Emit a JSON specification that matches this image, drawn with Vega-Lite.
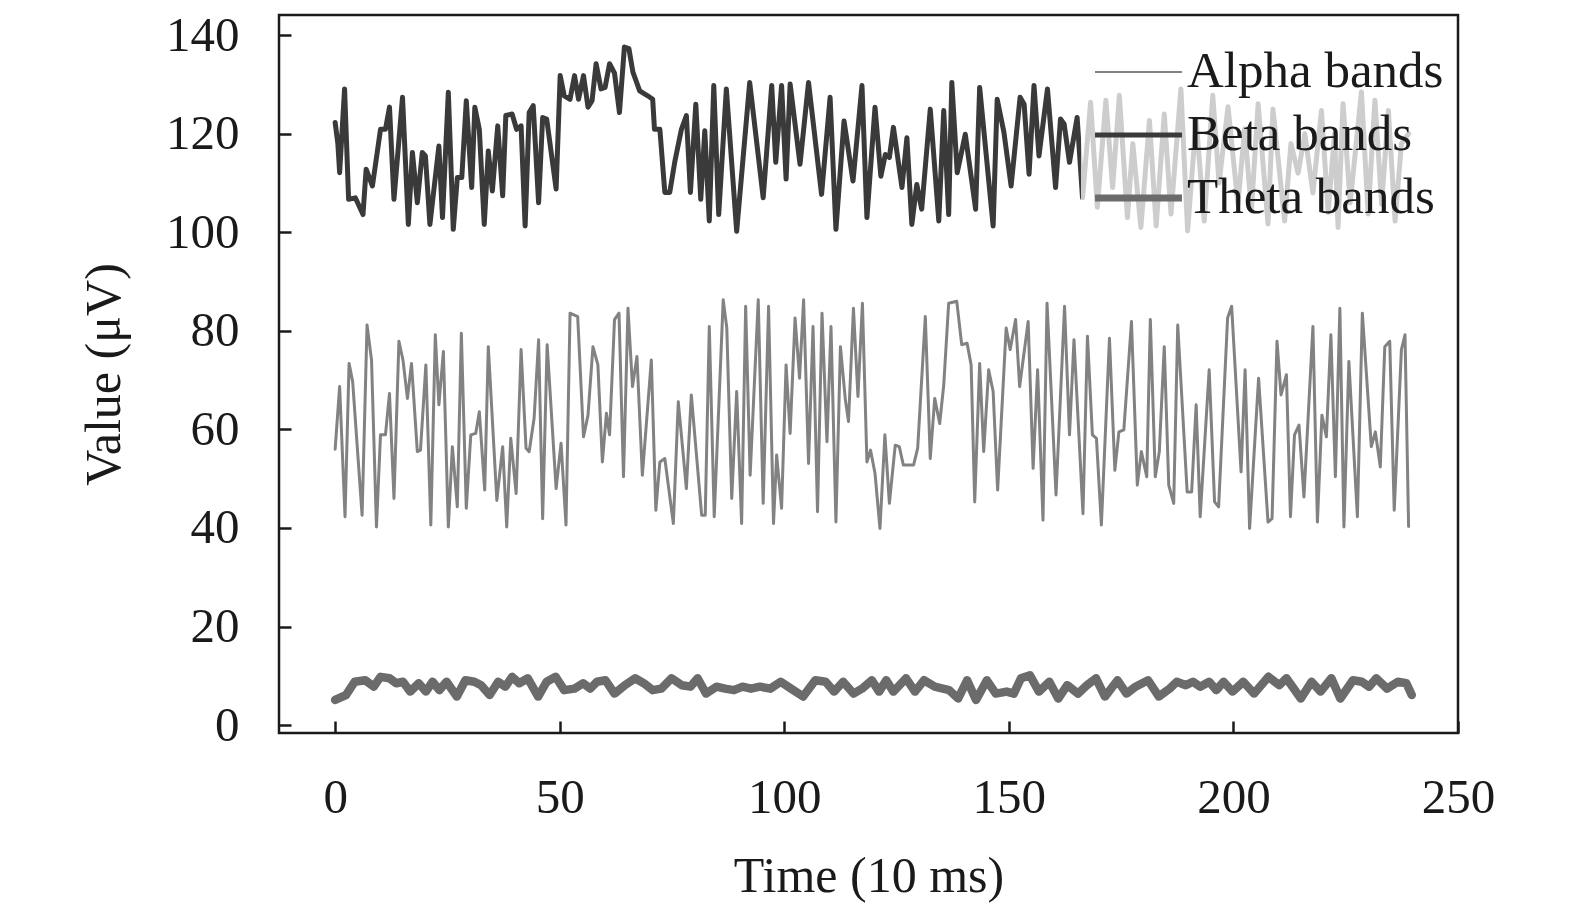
{
  "$schema": "https://vega.github.io/schema/vega-lite/v6.json",
  "autosize": "none",
  "width": 1179,
  "height": 718,
  "padding": {"left": 279, "top": 15, "right": 117, "bottom": 180},
  "background": "white",
  "config": {
    "view": {"stroke": "#1a1a1a", "strokeWidth": 2.5},
    "font": "Liberation Serif",
    "axis": {
      "labelFont": "Liberation Serif", "titleFont": "Liberation Serif",
      "labelFontSize": 49, "titleFontSize": 50,
      "labelColor": "#1a1a1a", "titleColor": "#1a1a1a",
      "titleFontWeight": "normal",
      "grid": false, "domain": false, "labelFlush": false,
      "tickSize": -12, "tickWidth": 2.5, "tickColor": "#1a1a1a",
      "labelPadding": 52
    }
  },
  "data": {
    "values": [
      {"band": "Beta bands", "t": 0, "v": 122.3}, {"band": "Beta bands", "t": 0.6, "v": 118}, {"band": "Beta bands", "t": 1.0, "v": 112.1},
      {"band": "Beta bands", "t": 2.1, "v": 129.1}, {"band": "Beta bands", "t": 3.0, "v": 106.7}, {"band": "Beta bands", "t": 4.5, "v": 107.0},
      {"band": "Beta bands", "t": 6.2, "v": 103.6}, {"band": "Beta bands", "t": 6.9, "v": 112.8}, {"band": "Beta bands", "t": 8.3, "v": 109.4},
      {"band": "Beta bands", "t": 10.1, "v": 120.9}, {"band": "Beta bands", "t": 11.2, "v": 120.9}, {"band": "Beta bands", "t": 12.1, "v": 125.4},
      {"band": "Beta bands", "t": 13.1, "v": 106.7}, {"band": "Beta bands", "t": 15.0, "v": 127.4}, {"band": "Beta bands", "t": 16.3, "v": 101.6},
      {"band": "Beta bands", "t": 17.2, "v": 116.2}, {"band": "Beta bands", "t": 18.3, "v": 106.0}, {"band": "Beta bands", "t": 19.4, "v": 116.2},
      {"band": "Beta bands", "t": 20.1, "v": 115.5}, {"band": "Beta bands", "t": 21.1, "v": 101.6}, {"band": "Beta bands", "t": 23.1, "v": 117.5},
      {"band": "Beta bands", "t": 23.9, "v": 103.0}, {"band": "Beta bands", "t": 25.2, "v": 128.4}, {"band": "Beta bands", "t": 26.3, "v": 100.6},
      {"band": "Beta bands", "t": 27.2, "v": 111.1}, {"band": "Beta bands", "t": 28.2, "v": 111.1}, {"band": "Beta bands", "t": 29.2, "v": 126.7},
      {"band": "Beta bands", "t": 30.4, "v": 109.1}, {"band": "Beta bands", "t": 31.1, "v": 125.4}, {"band": "Beta bands", "t": 32.1, "v": 120.9},
      {"band": "Beta bands", "t": 33.2, "v": 101.6}, {"band": "Beta bands", "t": 34.1, "v": 116.5}, {"band": "Beta bands", "t": 35.0, "v": 108.4},
      {"band": "Beta bands", "t": 36.2, "v": 121.6}, {"band": "Beta bands", "t": 37.3, "v": 107.4}, {"band": "Beta bands", "t": 38.0, "v": 123.7},
      {"band": "Beta bands", "t": 39.4, "v": 124.0}, {"band": "Beta bands", "t": 40.4, "v": 120.9}, {"band": "Beta bands", "t": 41.4, "v": 121.6},
      {"band": "Beta bands", "t": 42.3, "v": 101.3}, {"band": "Beta bands", "t": 43.2, "v": 124.3}, {"band": "Beta bands", "t": 44.1, "v": 125.7},
      {"band": "Beta bands", "t": 45.3, "v": 106.0}, {"band": "Beta bands", "t": 46.2, "v": 123.3}, {"band": "Beta bands", "t": 47.1, "v": 123.0},
      {"band": "Beta bands", "t": 49.2, "v": 108.8}, {"band": "Beta bands", "t": 50.1, "v": 131.8}, {"band": "Beta bands", "t": 51.0, "v": 127.7},
      {"band": "Beta bands", "t": 52.3, "v": 127.0}, {"band": "Beta bands", "t": 53.3, "v": 131.8}, {"band": "Beta bands", "t": 54.2, "v": 127.0},
      {"band": "Beta bands", "t": 55.3, "v": 131.8}, {"band": "Beta bands", "t": 56.3, "v": 125.4}, {"band": "Beta bands", "t": 57.2, "v": 126.7},
      {"band": "Beta bands", "t": 58.1, "v": 134.2}, {"band": "Beta bands", "t": 59.2, "v": 129.1}, {"band": "Beta bands", "t": 60.1, "v": 129.4},
      {"band": "Beta bands", "t": 61.1, "v": 134.2}, {"band": "Beta bands", "t": 62.2, "v": 132.3}, {"band": "Beta bands", "t": 63.3, "v": 124.3},
      {"band": "Beta bands", "t": 64.4, "v": 137.6}, {"band": "Beta bands", "t": 65.4, "v": 137.3}, {"band": "Beta bands", "t": 66.3, "v": 132.5},
      {"band": "Beta bands", "t": 67.8, "v": 128.7}, {"band": "Beta bands", "t": 69.6, "v": 127.7}, {"band": "Beta bands", "t": 70.7, "v": 127.0},
      {"band": "Beta bands", "t": 71.1, "v": 120.9}, {"band": "Beta bands", "t": 72.3, "v": 120.9}, {"band": "Beta bands", "t": 73.4, "v": 108.1},
      {"band": "Beta bands", "t": 74.5, "v": 108.1}, {"band": "Beta bands", "t": 75.6, "v": 114.2}, {"band": "Beta bands", "t": 77.1, "v": 120.9},
      {"band": "Beta bands", "t": 78.2, "v": 123.7}, {"band": "Beta bands", "t": 79.1, "v": 108.1}, {"band": "Beta bands", "t": 80.3, "v": 126.0},
      {"band": "Beta bands", "t": 81.4, "v": 106.7}, {"band": "Beta bands", "t": 82.3, "v": 120.6}, {"band": "Beta bands", "t": 83.3, "v": 102.3},
      {"band": "Beta bands", "t": 84.3, "v": 129.8}, {"band": "Beta bands", "t": 85.4, "v": 103.6}, {"band": "Beta bands", "t": 87.1, "v": 129.1},
      {"band": "Beta bands", "t": 89.4, "v": 100.2}, {"band": "Beta bands", "t": 92.3, "v": 130.4}, {"band": "Beta bands", "t": 95.3, "v": 107.0},
      {"band": "Beta bands", "t": 97.2, "v": 129.8}, {"band": "Beta bands", "t": 98.1, "v": 114.2}, {"band": "Beta bands", "t": 99.4, "v": 129.8},
      {"band": "Beta bands", "t": 100.4, "v": 110.8}, {"band": "Beta bands", "t": 101.3, "v": 130.1}, {"band": "Beta bands", "t": 103.5, "v": 113.8},
      {"band": "Beta bands", "t": 105.4, "v": 130.4}, {"band": "Beta bands", "t": 108.3, "v": 107.7}, {"band": "Beta bands", "t": 110.2, "v": 127.4},
      {"band": "Beta bands", "t": 111.5, "v": 100.6}, {"band": "Beta bands", "t": 113.3, "v": 122.6}, {"band": "Beta bands", "t": 115.3, "v": 110.4},
      {"band": "Beta bands", "t": 117.3, "v": 129.8}, {"band": "Beta bands", "t": 118.4, "v": 103.0}, {"band": "Beta bands", "t": 120.2, "v": 125.4},
      {"band": "Beta bands", "t": 121.5, "v": 111.4}, {"band": "Beta bands", "t": 122.5, "v": 115.8}, {"band": "Beta bands", "t": 123.4, "v": 115.2},
      {"band": "Beta bands", "t": 124.3, "v": 121.3}, {"band": "Beta bands", "t": 126.2, "v": 109.1}, {"band": "Beta bands", "t": 127.3, "v": 119.2},
      {"band": "Beta bands", "t": 128.4, "v": 101.6}, {"band": "Beta bands", "t": 129.5, "v": 109.7}, {"band": "Beta bands", "t": 130.6, "v": 104.7},
      {"band": "Beta bands", "t": 132.5, "v": 125.0}, {"band": "Beta bands", "t": 134.4, "v": 102.3}, {"band": "Beta bands", "t": 135.5, "v": 124.7},
      {"band": "Beta bands", "t": 136.6, "v": 103.6}, {"band": "Beta bands", "t": 137.3, "v": 130.4}, {"band": "Beta bands", "t": 138.5, "v": 112.1},
      {"band": "Beta bands", "t": 140.3, "v": 119.9}, {"band": "Beta bands", "t": 142.6, "v": 104.7}, {"band": "Beta bands", "t": 143.5, "v": 129.4},
      {"band": "Beta bands", "t": 146.5, "v": 101.3}, {"band": "Beta bands", "t": 147.4, "v": 127.0}, {"band": "Beta bands", "t": 148.9, "v": 120.3},
      {"band": "Beta bands", "t": 150.5, "v": 109.4}, {"band": "Beta bands", "t": 152.5, "v": 127.4}, {"band": "Beta bands", "t": 153.4, "v": 126.0},
      {"band": "Beta bands", "t": 154.5, "v": 111.8}, {"band": "Beta bands", "t": 155.6, "v": 129.8}, {"band": "Beta bands", "t": 156.7, "v": 115.5},
      {"band": "Beta bands", "t": 158.6, "v": 129.1}, {"band": "Beta bands", "t": 160.4, "v": 109.1}, {"band": "Beta bands", "t": 161.5, "v": 123.0},
      {"band": "Beta bands", "t": 162.3, "v": 122.0}, {"band": "Beta bands", "t": 163.5, "v": 114.2}, {"band": "Beta bands", "t": 165.2, "v": 123.3},
      {"band": "Beta bands", "t": 166.4, "v": 107.0}, {"band": "Beta bands", "t": 168.2, "v": 126.4}, {"band": "Beta bands", "t": 169.7, "v": 105.1},
      {"band": "Beta bands", "t": 171.6, "v": 126.8}, {"band": "Beta bands", "t": 173.1, "v": 109.1}, {"band": "Beta bands", "t": 174.6, "v": 127.8},
      {"band": "Beta bands", "t": 176.4, "v": 103.0}, {"band": "Beta bands", "t": 177.6, "v": 118.0}, {"band": "Beta bands", "t": 179.4, "v": 101.0},
      {"band": "Beta bands", "t": 181.3, "v": 122.7}, {"band": "Beta bands", "t": 182.8, "v": 101.3}, {"band": "Beta bands", "t": 184.6, "v": 124.0},
      {"band": "Beta bands", "t": 186.1, "v": 103.7}, {"band": "Beta bands", "t": 188.3, "v": 129.1}, {"band": "Beta bands", "t": 189.8, "v": 100.3},
      {"band": "Beta bands", "t": 191.7, "v": 122.7}, {"band": "Beta bands", "t": 193.5, "v": 102.3}, {"band": "Beta bands", "t": 195.4, "v": 127.8},
      {"band": "Beta bands", "t": 196.8, "v": 110.0}, {"band": "Beta bands", "t": 198.8, "v": 125.5}, {"band": "Beta bands", "t": 201.0, "v": 105.7},
      {"band": "Beta bands", "t": 202.5, "v": 121.0}, {"band": "Beta bands", "t": 204.0, "v": 104.4}, {"band": "Beta bands", "t": 205.5, "v": 126.1},
      {"band": "Beta bands", "t": 207.7, "v": 101.7}, {"band": "Beta bands", "t": 208.8, "v": 125.0}, {"band": "Beta bands", "t": 211.4, "v": 102.3},
      {"band": "Beta bands", "t": 212.8, "v": 118.0}, {"band": "Beta bands", "t": 214.4, "v": 112.0}, {"band": "Beta bands", "t": 215.9, "v": 120.0},
      {"band": "Beta bands", "t": 217.7, "v": 108.0}, {"band": "Beta bands", "t": 219.6, "v": 124.7}, {"band": "Beta bands", "t": 221.1, "v": 104.0},
      {"band": "Beta bands", "t": 222.5, "v": 120.0}, {"band": "Beta bands", "t": 223.3, "v": 101.0}, {"band": "Beta bands", "t": 224.4, "v": 126.1},
      {"band": "Beta bands", "t": 226.0, "v": 106.0}, {"band": "Beta bands", "t": 228.5, "v": 128.5}, {"band": "Beta bands", "t": 230.0, "v": 103.7},
      {"band": "Beta bands", "t": 231.5, "v": 126.8}, {"band": "Beta bands", "t": 233.0, "v": 105.7}, {"band": "Beta bands", "t": 234.5, "v": 124.7},
      {"band": "Beta bands", "t": 236.0, "v": 102.3}, {"band": "Beta bands", "t": 237.4, "v": 118.0}, {"band": "Beta bands", "t": 239.0, "v": 120.0},

      {"band": "Alpha bands", "t": 0, "v": 56}, {"band": "Alpha bands", "t": 1.0, "v": 68.7}, {"band": "Alpha bands", "t": 2.2, "v": 42.3},
      {"band": "Alpha bands", "t": 3.1, "v": 73.4}, {"band": "Alpha bands", "t": 3.9, "v": 69.7}, {"band": "Alpha bands", "t": 6.0, "v": 42.6},
      {"band": "Alpha bands", "t": 7.1, "v": 81.2}, {"band": "Alpha bands", "t": 8.1, "v": 74.1}, {"band": "Alpha bands", "t": 9.2, "v": 40.2},
      {"band": "Alpha bands", "t": 10.1, "v": 58.9}, {"band": "Alpha bands", "t": 11.2, "v": 58.9}, {"band": "Alpha bands", "t": 12.1, "v": 67.3},
      {"band": "Alpha bands", "t": 13.1, "v": 46.0}, {"band": "Alpha bands", "t": 14.2, "v": 77.9}, {"band": "Alpha bands", "t": 15.1, "v": 74.1},
      {"band": "Alpha bands", "t": 16.1, "v": 66.3}, {"band": "Alpha bands", "t": 17.0, "v": 73.4}, {"band": "Alpha bands", "t": 18.3, "v": 55.5},
      {"band": "Alpha bands", "t": 19.0, "v": 55.8}, {"band": "Alpha bands", "t": 20.2, "v": 73.1}, {"band": "Alpha bands", "t": 21.3, "v": 40.6},
      {"band": "Alpha bands", "t": 22.3, "v": 79.2}, {"band": "Alpha bands", "t": 23.1, "v": 65.0}, {"band": "Alpha bands", "t": 24.1, "v": 75.8},
      {"band": "Alpha bands", "t": 25.2, "v": 40.2}, {"band": "Alpha bands", "t": 26.1, "v": 56.5}, {"band": "Alpha bands", "t": 27.2, "v": 44.3},
      {"band": "Alpha bands", "t": 28.1, "v": 79.5}, {"band": "Alpha bands", "t": 29.2, "v": 44.0}, {"band": "Alpha bands", "t": 30.2, "v": 58.9},
      {"band": "Alpha bands", "t": 31.3, "v": 59.2}, {"band": "Alpha bands", "t": 32.1, "v": 63.6}, {"band": "Alpha bands", "t": 33.3, "v": 47.7},
      {"band": "Alpha bands", "t": 34.1, "v": 76.8}, {"band": "Alpha bands", "t": 36.0, "v": 45.6}, {"band": "Alpha bands", "t": 37.3, "v": 56.5},
      {"band": "Alpha bands", "t": 38.2, "v": 40.2}, {"band": "Alpha bands", "t": 39.1, "v": 58.2}, {"band": "Alpha bands", "t": 40.3, "v": 47.0},
      {"band": "Alpha bands", "t": 41.4, "v": 76.2}, {"band": "Alpha bands", "t": 42.5, "v": 56.2}, {"band": "Alpha bands", "t": 43.2, "v": 55.5},
      {"band": "Alpha bands", "t": 44.3, "v": 62.3}, {"band": "Alpha bands", "t": 45.3, "v": 78.2}, {"band": "Alpha bands", "t": 46.2, "v": 41.9},
      {"band": "Alpha bands", "t": 47.2, "v": 77.2}, {"band": "Alpha bands", "t": 49.2, "v": 48.0}, {"band": "Alpha bands", "t": 50.3, "v": 57.2},
      {"band": "Alpha bands", "t": 51.4, "v": 40.6}, {"band": "Alpha bands", "t": 52.3, "v": 83.6}, {"band": "Alpha bands", "t": 54.0, "v": 82.9},
      {"band": "Alpha bands", "t": 55.3, "v": 58.5}, {"band": "Alpha bands", "t": 56.3, "v": 62.9}, {"band": "Alpha bands", "t": 57.4, "v": 76.8},
      {"band": "Alpha bands", "t": 58.5, "v": 73.1}, {"band": "Alpha bands", "t": 59.5, "v": 53.4}, {"band": "Alpha bands", "t": 60.4, "v": 63.3},
      {"band": "Alpha bands", "t": 61.1, "v": 58.9}, {"band": "Alpha bands", "t": 62.2, "v": 82.3}, {"band": "Alpha bands", "t": 63.2, "v": 83.6},
      {"band": "Alpha bands", "t": 64.2, "v": 50.4}, {"band": "Alpha bands", "t": 65.2, "v": 84.6}, {"band": "Alpha bands", "t": 66.2, "v": 68.7},
      {"band": "Alpha bands", "t": 67.2, "v": 74.8}, {"band": "Alpha bands", "t": 68.4, "v": 50.7}, {"band": "Alpha bands", "t": 70.4, "v": 74.1},
      {"band": "Alpha bands", "t": 71.4, "v": 43.6}, {"band": "Alpha bands", "t": 72.3, "v": 53.4}, {"band": "Alpha bands", "t": 73.4, "v": 54.1},
      {"band": "Alpha bands", "t": 75.3, "v": 40.9}, {"band": "Alpha bands", "t": 76.4, "v": 65.6}, {"band": "Alpha bands", "t": 78.2, "v": 48.0},
      {"band": "Alpha bands", "t": 79.3, "v": 67.0}, {"band": "Alpha bands", "t": 81.6, "v": 42.6}, {"band": "Alpha bands", "t": 82.4, "v": 42.6},
      {"band": "Alpha bands", "t": 83.3, "v": 80.9}, {"band": "Alpha bands", "t": 84.4, "v": 42.3}, {"band": "Alpha bands", "t": 86.4, "v": 86.3},
      {"band": "Alpha bands", "t": 87.2, "v": 80.6}, {"band": "Alpha bands", "t": 88.3, "v": 46.0}, {"band": "Alpha bands", "t": 89.4, "v": 67.7},
      {"band": "Alpha bands", "t": 90.5, "v": 40.9}, {"band": "Alpha bands", "t": 91.4, "v": 85.0}, {"band": "Alpha bands", "t": 92.4, "v": 50.7},
      {"band": "Alpha bands", "t": 94.2, "v": 86.3}, {"band": "Alpha bands", "t": 95.3, "v": 45.0}, {"band": "Alpha bands", "t": 96.5, "v": 85.0},
      {"band": "Alpha bands", "t": 97.6, "v": 40.9}, {"band": "Alpha bands", "t": 98.3, "v": 54.8}, {"band": "Alpha bands", "t": 99.4, "v": 44.0},
      {"band": "Alpha bands", "t": 100.4, "v": 73.1}, {"band": "Alpha bands", "t": 101.3, "v": 59.2}, {"band": "Alpha bands", "t": 102.4, "v": 82.6},
      {"band": "Alpha bands", "t": 103.4, "v": 70.4}, {"band": "Alpha bands", "t": 104.3, "v": 86.3}, {"band": "Alpha bands", "t": 105.4, "v": 53.1},
      {"band": "Alpha bands", "t": 106.4, "v": 80.9}, {"band": "Alpha bands", "t": 107.4, "v": 43.3}, {"band": "Alpha bands", "t": 108.4, "v": 83.6},
      {"band": "Alpha bands", "t": 109.5, "v": 57.5}, {"band": "Alpha bands", "t": 110.4, "v": 80.9}, {"band": "Alpha bands", "t": 111.5, "v": 41.2},
      {"band": "Alpha bands", "t": 112.5, "v": 76.8}, {"band": "Alpha bands", "t": 113.6, "v": 66.0}, {"band": "Alpha bands", "t": 114.3, "v": 61.6},
      {"band": "Alpha bands", "t": 115.4, "v": 84.6}, {"band": "Alpha bands", "t": 116.4, "v": 66.7}, {"band": "Alpha bands", "t": 117.4, "v": 85.6},
      {"band": "Alpha bands", "t": 118.4, "v": 53.4}, {"band": "Alpha bands", "t": 119.2, "v": 55.8}, {"band": "Alpha bands", "t": 120.2, "v": 51.1},
      {"band": "Alpha bands", "t": 121.3, "v": 39.9}, {"band": "Alpha bands", "t": 122.4, "v": 58.9}, {"band": "Alpha bands", "t": 123.4, "v": 45.0},
      {"band": "Alpha bands", "t": 124.7, "v": 56.8}, {"band": "Alpha bands", "t": 125.6, "v": 56.5}, {"band": "Alpha bands", "t": 126.5, "v": 52.8},
      {"band": "Alpha bands", "t": 128.8, "v": 52.8}, {"band": "Alpha bands", "t": 129.7, "v": 56.2}, {"band": "Alpha bands", "t": 131.4, "v": 82.9},
      {"band": "Alpha bands", "t": 132.5, "v": 54.1}, {"band": "Alpha bands", "t": 133.5, "v": 66.3}, {"band": "Alpha bands", "t": 134.6, "v": 61.2},
      {"band": "Alpha bands", "t": 135.5, "v": 69.0}, {"band": "Alpha bands", "t": 136.6, "v": 85.6}, {"band": "Alpha bands", "t": 138.4, "v": 86.0},
      {"band": "Alpha bands", "t": 139.5, "v": 77.2}, {"band": "Alpha bands", "t": 140.7, "v": 77.5}, {"band": "Alpha bands", "t": 141.6, "v": 73.1},
      {"band": "Alpha bands", "t": 142.4, "v": 45.3}, {"band": "Alpha bands", "t": 143.5, "v": 73.4}, {"band": "Alpha bands", "t": 144.4, "v": 55.5},
      {"band": "Alpha bands", "t": 145.5, "v": 72.1}, {"band": "Alpha bands", "t": 146.5, "v": 67.7}, {"band": "Alpha bands", "t": 147.5, "v": 47.7},
      {"band": "Alpha bands", "t": 149.4, "v": 80.6}, {"band": "Alpha bands", "t": 150.3, "v": 76.2}, {"band": "Alpha bands", "t": 151.5, "v": 82.3},
      {"band": "Alpha bands", "t": 152.4, "v": 68.7}, {"band": "Alpha bands", "t": 154.3, "v": 81.9}, {"band": "Alpha bands", "t": 155.4, "v": 52.1},
      {"band": "Alpha bands", "t": 156.4, "v": 72.1}, {"band": "Alpha bands", "t": 157.6, "v": 41.6}, {"band": "Alpha bands", "t": 158.5, "v": 85.6},
      {"band": "Alpha bands", "t": 159.5, "v": 66.3}, {"band": "Alpha bands", "t": 160.5, "v": 46.7}, {"band": "Alpha bands", "t": 162.4, "v": 85.0},
      {"band": "Alpha bands", "t": 163.5, "v": 58.9}, {"band": "Alpha bands", "t": 164.5, "v": 78.2}, {"band": "Alpha bands", "t": 166.5, "v": 42.9},
      {"band": "Alpha bands", "t": 167.5, "v": 78.9}, {"band": "Alpha bands", "t": 168.6, "v": 58.9}, {"band": "Alpha bands", "t": 169.5, "v": 58.2},
      {"band": "Alpha bands", "t": 170.6, "v": 40.6}, {"band": "Alpha bands", "t": 172.4, "v": 78.5}, {"band": "Alpha bands", "t": 173.6, "v": 51.7},
      {"band": "Alpha bands", "t": 174.5, "v": 59.5}, {"band": "Alpha bands", "t": 175.6, "v": 59.9}, {"band": "Alpha bands", "t": 177.3, "v": 81.9},
      {"band": "Alpha bands", "t": 178.6, "v": 48.7}, {"band": "Alpha bands", "t": 179.5, "v": 55.5}, {"band": "Alpha bands", "t": 180.7, "v": 50.4},
      {"band": "Alpha bands", "t": 181.5, "v": 82.3}, {"band": "Alpha bands", "t": 182.6, "v": 50.4}, {"band": "Alpha bands", "t": 183.5, "v": 55.5},
      {"band": "Alpha bands", "t": 184.6, "v": 76.8}, {"band": "Alpha bands", "t": 185.6, "v": 48.7}, {"band": "Alpha bands", "t": 186.7, "v": 45.0},
      {"band": "Alpha bands", "t": 187.6, "v": 81.2}, {"band": "Alpha bands", "t": 189.7, "v": 47.3}, {"band": "Alpha bands", "t": 190.7, "v": 47.3},
      {"band": "Alpha bands", "t": 191.7, "v": 65.0}, {"band": "Alpha bands", "t": 192.6, "v": 42.3}, {"band": "Alpha bands", "t": 194.6, "v": 72.1},
      {"band": "Alpha bands", "t": 195.8, "v": 45.3}, {"band": "Alpha bands", "t": 196.7, "v": 44.3}, {"band": "Alpha bands", "t": 198.7, "v": 82.6},
      {"band": "Alpha bands", "t": 199.6, "v": 85.0}, {"band": "Alpha bands", "t": 201.7, "v": 51.4}, {"band": "Alpha bands", "t": 202.6, "v": 72.1},
      {"band": "Alpha bands", "t": 203.6, "v": 39.9}, {"band": "Alpha bands", "t": 205.6, "v": 70.4}, {"band": "Alpha bands", "t": 207.7, "v": 41.2},
      {"band": "Alpha bands", "t": 208.6, "v": 41.9}, {"band": "Alpha bands", "t": 209.7, "v": 77.9}, {"band": "Alpha bands", "t": 210.6, "v": 67.0},
      {"band": "Alpha bands", "t": 211.8, "v": 71.1}, {"band": "Alpha bands", "t": 212.7, "v": 42.3}, {"band": "Alpha bands", "t": 213.6, "v": 58.9},
      {"band": "Alpha bands", "t": 214.6, "v": 60.9}, {"band": "Alpha bands", "t": 215.7, "v": 46.3}, {"band": "Alpha bands", "t": 217.7, "v": 80.9},
      {"band": "Alpha bands", "t": 218.7, "v": 41.2}, {"band": "Alpha bands", "t": 219.7, "v": 62.9}, {"band": "Alpha bands", "t": 220.7, "v": 58.5},
      {"band": "Alpha bands", "t": 221.7, "v": 79.2}, {"band": "Alpha bands", "t": 222.7, "v": 50.4}, {"band": "Alpha bands", "t": 223.7, "v": 84.6},
      {"band": "Alpha bands", "t": 224.6, "v": 40.2}, {"band": "Alpha bands", "t": 225.7, "v": 73.8}, {"band": "Alpha bands", "t": 227.6, "v": 42.3},
      {"band": "Alpha bands", "t": 228.7, "v": 83.6}, {"band": "Alpha bands", "t": 230.7, "v": 56.5}, {"band": "Alpha bands", "t": 231.6, "v": 59.5},
      {"band": "Alpha bands", "t": 232.7, "v": 52.4}, {"band": "Alpha bands", "t": 233.7, "v": 76.8}, {"band": "Alpha bands", "t": 234.8, "v": 77.9},
      {"band": "Alpha bands", "t": 235.8, "v": 43.6}, {"band": "Alpha bands", "t": 237.4, "v": 76.2}, {"band": "Alpha bands", "t": 238.2, "v": 79.2},
      {"band": "Alpha bands", "t": 239.0, "v": 40.3},

      {"band": "Theta bands", "t": 0, "v": 5.1}, {"band": "Theta bands", "t": 2.4, "v": 6.1}, {"band": "Theta bands", "t": 4.35, "v": 8.8},
      {"band": "Theta bands", "t": 6.7, "v": 9.1}, {"band": "Theta bands", "t": 8.6, "v": 7.8}, {"band": "Theta bands", "t": 10.1, "v": 9.8},
      {"band": "Theta bands", "t": 12.1, "v": 9.5}, {"band": "Theta bands", "t": 13.6, "v": 8.5}, {"band": "Theta bands", "t": 15.1, "v": 8.8},
      {"band": "Theta bands", "t": 16.7, "v": 6.8}, {"band": "Theta bands", "t": 18.6, "v": 8.5}, {"band": "Theta bands", "t": 20.2, "v": 6.8},
      {"band": "Theta bands", "t": 21.7, "v": 8.8}, {"band": "Theta bands", "t": 23.2, "v": 7.1}, {"band": "Theta bands", "t": 24.8, "v": 8.8},
      {"band": "Theta bands", "t": 27.1, "v": 5.8}, {"band": "Theta bands", "t": 29.0, "v": 9.1}, {"band": "Theta bands", "t": 31.0, "v": 8.8},
      {"band": "Theta bands", "t": 32.5, "v": 8.1}, {"band": "Theta bands", "t": 34.4, "v": 6.1}, {"band": "Theta bands", "t": 36.3, "v": 8.8},
      {"band": "Theta bands", "t": 37.9, "v": 7.8}, {"band": "Theta bands", "t": 39.4, "v": 9.8}, {"band": "Theta bands", "t": 41.0, "v": 8.5},
      {"band": "Theta bands", "t": 42.9, "v": 9.5}, {"band": "Theta bands", "t": 45.2, "v": 5.8}, {"band": "Theta bands", "t": 47.1, "v": 8.8},
      {"band": "Theta bands", "t": 49.1, "v": 9.8}, {"band": "Theta bands", "t": 51.0, "v": 7.1}, {"band": "Theta bands", "t": 53.3, "v": 7.4},
      {"band": "Theta bands", "t": 55.2, "v": 8.5}, {"band": "Theta bands", "t": 56.8, "v": 7.4}, {"band": "Theta bands", "t": 58.3, "v": 8.8},
      {"band": "Theta bands", "t": 60.2, "v": 9.1}, {"band": "Theta bands", "t": 62.2, "v": 6.4}, {"band": "Theta bands", "t": 64.5, "v": 8.1},
      {"band": "Theta bands", "t": 66.8, "v": 9.5}, {"band": "Theta bands", "t": 68.7, "v": 8.5}, {"band": "Theta bands", "t": 70.7, "v": 7.1},
      {"band": "Theta bands", "t": 72.6, "v": 7.4}, {"band": "Theta bands", "t": 74.9, "v": 9.5}, {"band": "Theta bands", "t": 77.2, "v": 8.1},
      {"band": "Theta bands", "t": 79.1, "v": 7.8}, {"band": "Theta bands", "t": 80.7, "v": 9.5}, {"band": "Theta bands", "t": 82.6, "v": 6.4},
      {"band": "Theta bands", "t": 84.9, "v": 7.8}, {"band": "Theta bands", "t": 86.8, "v": 7.4}, {"band": "Theta bands", "t": 88.8, "v": 7.1},
      {"band": "Theta bands", "t": 90.7, "v": 7.8}, {"band": "Theta bands", "t": 92.6, "v": 7.4}, {"band": "Theta bands", "t": 94.6, "v": 7.8},
      {"band": "Theta bands", "t": 96.9, "v": 7.4}, {"band": "Theta bands", "t": 99.2, "v": 8.8}, {"band": "Theta bands", "t": 101.5, "v": 7.4},
      {"band": "Theta bands", "t": 104.2, "v": 5.8}, {"band": "Theta bands", "t": 106.9, "v": 9.1}, {"band": "Theta bands", "t": 109.2, "v": 8.8},
      {"band": "Theta bands", "t": 111.1, "v": 6.8}, {"band": "Theta bands", "t": 113.1, "v": 8.8}, {"band": "Theta bands", "t": 115.4, "v": 6.4},
      {"band": "Theta bands", "t": 117.3, "v": 7.4}, {"band": "Theta bands", "t": 119.5, "v": 9.1}, {"band": "Theta bands", "t": 121.1, "v": 6.8},
      {"band": "Theta bands", "t": 122.7, "v": 9.1}, {"band": "Theta bands", "t": 124.3, "v": 6.8}, {"band": "Theta bands", "t": 127.1, "v": 9.5},
      {"band": "Theta bands", "t": 129.1, "v": 6.8}, {"band": "Theta bands", "t": 131.1, "v": 9.1}, {"band": "Theta bands", "t": 133.5, "v": 7.8},
      {"band": "Theta bands", "t": 136.7, "v": 7.1}, {"band": "Theta bands", "t": 138.7, "v": 5.4}, {"band": "Theta bands", "t": 140.7, "v": 9.1},
      {"band": "Theta bands", "t": 142.7, "v": 5.1}, {"band": "Theta bands", "t": 145.1, "v": 9.1}, {"band": "Theta bands", "t": 147.1, "v": 6.4},
      {"band": "Theta bands", "t": 149.5, "v": 6.8}, {"band": "Theta bands", "t": 151.1, "v": 6.4}, {"band": "Theta bands", "t": 152.7, "v": 9.5},
      {"band": "Theta bands", "t": 154.7, "v": 10.1}, {"band": "Theta bands", "t": 156.7, "v": 6.8}, {"band": "Theta bands", "t": 159.0, "v": 8.8},
      {"band": "Theta bands", "t": 161.0, "v": 5.4}, {"band": "Theta bands", "t": 163.0, "v": 8.1}, {"band": "Theta bands", "t": 165.4, "v": 6.4},
      {"band": "Theta bands", "t": 167.4, "v": 8.1}, {"band": "Theta bands", "t": 169.4, "v": 9.5}, {"band": "Theta bands", "t": 171.4, "v": 5.8},
      {"band": "Theta bands", "t": 174.2, "v": 9.1}, {"band": "Theta bands", "t": 176.2, "v": 6.4}, {"band": "Theta bands", "t": 178.2, "v": 7.8},
      {"band": "Theta bands", "t": 181.0, "v": 9.1}, {"band": "Theta bands", "t": 183.4, "v": 5.8}, {"band": "Theta bands", "t": 185.8, "v": 7.4},
      {"band": "Theta bands", "t": 187.4, "v": 8.8}, {"band": "Theta bands", "t": 189.4, "v": 8.1}, {"band": "Theta bands", "t": 191.0, "v": 8.8},
      {"band": "Theta bands", "t": 192.6, "v": 7.8}, {"band": "Theta bands", "t": 194.6, "v": 8.8}, {"band": "Theta bands", "t": 196.2, "v": 7.1},
      {"band": "Theta bands", "t": 197.8, "v": 8.8}, {"band": "Theta bands", "t": 199.8, "v": 6.8}, {"band": "Theta bands", "t": 202.2, "v": 8.8},
      {"band": "Theta bands", "t": 204.6, "v": 6.4}, {"band": "Theta bands", "t": 207.8, "v": 9.8}, {"band": "Theta bands", "t": 210.2, "v": 8.1},
      {"band": "Theta bands", "t": 211.8, "v": 9.5}, {"band": "Theta bands", "t": 215.0, "v": 5.4}, {"band": "Theta bands", "t": 217.4, "v": 8.8},
      {"band": "Theta bands", "t": 219.4, "v": 6.8}, {"band": "Theta bands", "t": 221.8, "v": 9.5}, {"band": "Theta bands", "t": 223.8, "v": 5.4},
      {"band": "Theta bands", "t": 226.6, "v": 9.1}, {"band": "Theta bands", "t": 228.6, "v": 8.8}, {"band": "Theta bands", "t": 230.2, "v": 7.8},
      {"band": "Theta bands", "t": 231.8, "v": 9.5}, {"band": "Theta bands", "t": 234.2, "v": 7.4}, {"band": "Theta bands", "t": 236.6, "v": 8.8},
      {"band": "Theta bands", "t": 238.5, "v": 8.5}, {"band": "Theta bands", "t": 239.7, "v": 6.1}
    ]
  },
  "encoding": {
    "x": {
      "field": "t", "type": "quantitative", "title": "Time (10 ms)",
      "scale": {"domain": [-12.5, 250], "nice": false, "zero": false},
      "axis": {"values": [0, 50, 100, 150, 200, 250], "titlePadding": 29}
    },
    "y": {
      "field": "v", "type": "quantitative", "title": "Value (μV)",
      "scale": {"domain": [-1.6, 144.1], "nice": false, "zero": false},
      "axis": {"values": [0, 20, 40, 60, 80, 100, 120, 140], "titlePadding": 36}
    },
    "color": {
      "field": "band", "type": "nominal",
      "scale": {"domain": ["Alpha bands", "Beta bands", "Theta bands"], "range": ["#828282", "#3a3a3a", "#6b6b6b"]},
      "legend": {
        "title": null, "orient": "none", "legendX": 802, "legendY": 21.5,
        "padding": 10, "fillColor": "rgba(255,255,255,0.75)",
        "symbolType": "M-1.38,0H1.38", "symbolSize": 3969, "symbolOffset": 22, "rowPadding": 11,
        "labelFont": "Liberation Serif", "labelFontSize": 51, "labelColor": "#1a1a1a",
        "labelLimit": 500, "labelOffset": 23,
        "encode": {"symbols": {"update": {"strokeWidth": {"signal": "datum.value === 'Alpha bands' ? 2 : datum.value === 'Beta bands' ? 5 : 7"}}}}
      }
    }
  },
  "layer": [
    {
      "transform": [{"filter": "datum.band === 'Alpha bands'"}],
      "mark": {"type": "line", "strokeWidth": 3, "strokeJoin": "round", "strokeCap": "round"}
    },
    {
      "transform": [{"filter": "datum.band === 'Beta bands'"}],
      "mark": {"type": "line", "strokeWidth": 5, "strokeJoin": "round", "strokeCap": "round"}
    },
    {
      "transform": [{"filter": "datum.band === 'Theta bands'"}],
      "mark": {"type": "line", "strokeWidth": 8.5, "strokeJoin": "round", "strokeCap": "round"}
    }
  ]
}
